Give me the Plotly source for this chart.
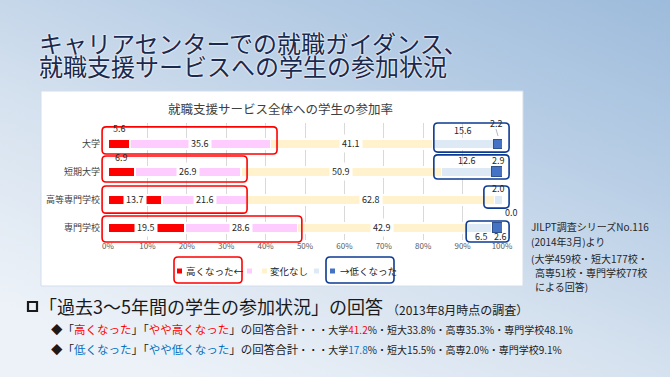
import base64
import plotly.graph_objects as go

W, H = 670, 377

# ---------------- data ----------------
categories = ["大学", "短期大学", "高等専門学校", "専門学校"]
series_names = ["高くなった", "やや高くなった", "変化なし", "やや低くなった", "低くなった"]
high = [5.6, 6.9, 13.7, 19.5]
slightly_high = [35.6, 26.9, 21.6, 28.6]
no_change = [41.1, 50.9, 62.8, 42.9]
slightly_low = [15.6, 12.6, 2.0, 6.5]
low = [2.2, 2.9, 0.0, 2.6]
x_ticks = list(range(0, 101, 10))
tick_labels = [f"{t}%" for t in x_ticks]
legend_labels = ["高くなった←", "", "変化なし", "", "→低くなった"]

series = [high, slightly_high, no_change, slightly_low, low]

# ---------------- styles / geometry ----------------
FONT = "Noto Sans CJK JP"
colors = ["#FF0000", "#FFCCFF", "#FFF2CC", "#DDEAF6", "#4472C4"]
line_colors = ["#FFFFFF", "#FFFFFF", "#FFFFFF", "#FFFFFF", "#2F528F"]
line_widths = [1.5, 1.5, 1.5, 1.5, 1.0]

PX0, PX1 = 108, 502          # x-axis domain in pixels
PY0, PY1 = 123, 240          # y-axis domain in pixels (top, bottom)
YR_TOP, YR_BOT = -0.75, 3.43  # category range (top, bottom)


def fx(px):
    return px / W


def fy(py):
    return 1 - py / H


def xd(v):  # data % -> px
    return PX0 + v / 100 * (PX1 - PX0)


def yd(c):  # category index -> px
    return PY0 + (c - YR_TOP) / (YR_BOT - YR_TOP) * (PY1 - PY0)


def rrect(x0, y0, x1, y1, r=4):
    pts = [
        ("M", [(x0 + r, y0)]), ("L", [(x1 - r, y0)]), ("Q", [(x1, y0), (x1, y0 + r)]),
        ("L", [(x1, y1 - r)]), ("Q", [(x1, y1), (x1 - r, y1)]),
        ("L", [(x0 + r, y1)]), ("Q", [(x0, y1), (x0, y1 - r)]),
        ("L", [(x0, y0 + r)]), ("Q", [(x0, y0), (x0 + r, y0)]),
    ]
    s = ""
    for cmd, ps in pts:
        s += cmd + " ".join(f"{fx(a):.5f},{fy(b):.5f}" for a, b in ps) + " "
    return s + "Z"


# label placement: (series, category) -> (xshift, yshift)
label_place = {
    (0, 0): (0, 15), (0, 1): (0, 14),
    (3, 0): (0, 13), (4, 0): (-2, 20),
    (3, 1): (0, 11), (4, 1): (1, 11),
    (3, 2): (0, 11), (4, 2): (9, -13),
    (3, 3): (2, -9), (4, 3): (3, -9),
}

# highlight boxes (x in %, y in category units)
red_boxes = [(-1.5, -0.61, 42.9, 0.36), (-1.5, 0.43, 35.3, 1.36),
             (-1.5, 1.50, 35.3, 2.47), (-1.5, 2.57, 49.2, 3.50)]
blue_boxes = [(82.7, -0.75, 101.8, 0.29), (82.7, 0.39, 101.8, 1.25),
              (95.4, 1.50, 101.8, 2.29), (90.9, 2.75, 101.8, 3.50)]

fig = go.Figure()
for i, (name, vals) in enumerate(zip(series_names, series)):
    fig.add_trace(go.Bar(
        y=categories, x=vals, name=name, orientation="h",
        marker=dict(color=colors[i], line=dict(color=line_colors[i], width=line_widths[i])),
        hoverinfo="skip", showlegend=False,
    ))

annotations = []
shapes = []

# data labels
for ci, cat in enumerate(categories):
    cum = 0.0
    for si, vals in enumerate(series):
        v = vals[ci]
        center = cum + v / 2
        cum += v
        if (si, ci) in label_place:
            xs, ys = label_place[(si, ci)]
            if si == 4 and ci == 2:
                center = 100
            annotations.append(dict(
                x=center, y=cat, xref="x", yref="y", text=f"{v:.1f}", showarrow=False,
                xshift=xs, yshift=ys, font=dict(family=FONT, size=9, color="#262626")))
        else:
            annotations.append(dict(
                x=center, y=cat, xref="x", yref="y", text=f"{v:.1f}", showarrow=False,
                bgcolor="#FFFFFF", borderpad=2,
                font=dict(family=FONT, size=9, color="#262626")))

# background gradient via svg image
svg = (
    "<svg xmlns='http://www.w3.org/2000/svg' width='670' height='377' preserveAspectRatio='none'>"
    "<defs><linearGradient id='g' x1='1' y1='0' x2='0.25' y2='1'>"
    "<stop offset='0' stop-color='#9DBBDB'/>"
    "<stop offset='0.35' stop-color='#BACFE6'/>"
    "<stop offset='0.65' stop-color='#D6E2EF'/>"
    "<stop offset='1' stop-color='#EDF2F8'/>"
    "</linearGradient></defs>"
    "<rect width='670' height='377' fill='url(#g)'/></svg>"
)
bg_src = "data:image/svg+xml;base64," + base64.b64encode(svg.encode()).decode()

# white chart area
shapes.append(dict(type="rect", xref="paper", yref="paper", layer="below",
                   x0=fx(41), x1=fx(523), y0=fy(286), y1=fy(91),
                   fillcolor="#FFFFFF", line=dict(color="#D3DEEB", width=1)))

# red / blue highlight boxes
for (x0, c0, x1, c1) in red_boxes:
    shapes.append(dict(type="path", xref="paper", yref="paper", layer="above",
                       path=rrect(xd(x0), yd(c0), xd(x1), yd(c1)),
                       line=dict(color="#FF0000", width=1.6)))
for (x0, c0, x1, c1) in blue_boxes:
    shapes.append(dict(type="path", xref="paper", yref="paper", layer="above",
                       path=rrect(xd(x0), yd(c0), xd(x1), yd(c1)),
                       line=dict(color="#0D3B94", width=1.6)))

# leader line for 2.2
shapes.append(dict(type="line", xref="paper", yref="paper", layer="above",
                   x0=fx(496), y0=fy(129), x1=fx(498), y1=fy(136),
                   line=dict(color="#A6A6A6", width=0.8)))

# manual legend
leg_sq_x = [177, 247, 262, 314, 330]
leg_txt_x = [184, None, 268, None, 338]
LY = 271
for i in range(5):
    shapes.append(dict(type="rect", xref="paper", yref="paper", layer="above",
                       x0=fx(leg_sq_x[i]), x1=fx(leg_sq_x[i] + 5),
                       y0=fy(LY + 2.5), y1=fy(LY - 2.5),
                       fillcolor=colors[i], line=dict(width=0)))
    if legend_labels[i]:
        annotations.append(dict(x=fx(leg_txt_x[i]), y=fy(LY), xref="paper", yref="paper",
                                xanchor="left", yanchor="middle", showarrow=False,
                                text=legend_labels[i],
                                font=dict(family=FONT, size=9.5, color="#262626")))
shapes.append(dict(type="path", xref="paper", yref="paper", layer="above",
                   path=rrect(174, 257, 242, 283), line=dict(color="#FF0000", width=1.6)))
shapes.append(dict(type="path", xref="paper", yref="paper", layer="above",
                   path=rrect(326, 257, 394, 283), line=dict(color="#0D3B94", width=1.6)))

# chart title
annotations.append(dict(x=fx(280), y=fy(108), xref="paper", yref="paper", showarrow=False,
                        xanchor="center", yanchor="middle",
                        text="就職支援サービス全体への学生の参加率",
                        font=dict(family=FONT, size=12.5, color="#404040")))

# slide title
for txt, yy in [("キャリアセンターでの就職ガイダンス、", 42), ("就職支援サービスへの学生の参加状況", 65)]:
    annotations.append(dict(x=fx(37), y=fy(yy), xref="paper", yref="paper", showarrow=False,
                            xanchor="left", yanchor="middle", text=txt,
                            font=dict(family=FONT, size=24, color="#1A2A4E",
                                      shadow="0 0 2px #ffffff, 0 0 2px #ffffff")))

# source notes
notes = [("JILPT調査シリーズNo.116", 529, 226), ("(2014年3月)より", 529, 241),
         ("(大学459校・短大177校・", 529, 258), ("高専51校・専門学校77校", 533, 272),
         ("による回答)", 533, 286)]
for txt, xx, yy in notes:
    annotations.append(dict(x=fx(xx), y=fy(yy), xref="paper", yref="paper", showarrow=False,
                            xanchor="left", yanchor="middle", text=txt,
                            font=dict(family=FONT, size=10, color="#262626")))

# bottom texts
shapes.append(dict(type="rect", xref="paper", yref="paper", layer="above",
                   x0=fx(28), x1=fx(37), y0=fy(311), y1=fy(302),
                   line=dict(color="#1A1A1A", width=2.2)))
annotations.append(dict(x=fx(37), y=fy(306), xref="paper", yref="paper", showarrow=False,
                        xanchor="left", yanchor="middle",
                        text="「過去3～5年間の学生の参加状況」の回答",
                        font=dict(family=FONT, size=18, color="#1A1A1A")))
annotations.append(dict(x=fx(385), y=fy(309), xref="paper", yref="paper", showarrow=False,
                        xanchor="left", yanchor="middle",
                        text="（2013年8月時点の調査）",
                        font=dict(family=FONT, size=12, color="#1A1A1A")))

hi_tot = [a + b for a, b in zip(high, slightly_high)]
lo_tot = [a + b for a, b in zip(slightly_low, low)]
short = ["大学", "短大", "高専", "専門学校"]
RED, BLUE = "#FF0000", "#0070C0"


def summary(vals, col):
    parts = []
    for k, (s, v) in enumerate(zip(short, vals)):
        num = f"{v:.1f}"
        if k == 0:
            num = f"<span style='color:{col}'>{num}</span>"
        parts.append(f"{s}{num}%")
    return "・".join(parts)


line_b = (f"◆「<span style='color:{RED}'>高くなった</span>」「<span style='color:{RED}'>やや高くなった</span>」の回答合計"
          f"<span style='font-size:10px'>・・・{summary(hi_tot, RED)}</span>")
line_c = (f"◆「<span style='color:{BLUE}'>低くなった</span>」「<span style='color:{BLUE}'>やや低くなった</span>」の回答合計"
          f"<span style='font-size:10px'>・・・{summary(lo_tot, BLUE)}</span>")
for txt, yy in [(line_b, 329), (line_c, 349)]:
    annotations.append(dict(x=fx(49), y=fy(yy), xref="paper", yref="paper", showarrow=False,
                            xanchor="left", yanchor="middle", text=txt,
                            font=dict(family=FONT, size=11.5, color="#1A1A1A")))

fig.update_layout(
    width=W, height=H, margin=dict(l=0, r=0, t=0, b=0, pad=0, autoexpand=False),
    barmode="stack", bargap=0.643,
    paper_bgcolor="#D6E2EF", plot_bgcolor="rgba(0,0,0,0)",
    showlegend=False,
    images=[dict(source=bg_src, xref="paper", yref="paper", x=0, y=1, sizex=1, sizey=1,
                 sizing="stretch", xanchor="left", yanchor="top", layer="below")],
    xaxis=dict(domain=[fx(PX0), fx(PX1)], range=[0, 100], tickvals=x_ticks, ticktext=tick_labels,
               showgrid=True, gridcolor="#D9D9D9", gridwidth=1, zeroline=False, showline=False,
               ticks="", automargin=False,
               tickfont=dict(family=FONT, size=8, color="#595959"), fixedrange=True),
    yaxis=dict(domain=[fy(PY1), fy(PY0)], type="category", categoryorder="array",
               categoryarray=categories, range=[YR_BOT, YR_TOP], showgrid=False,
               zeroline=False, showline=False, ticks="", automargin=False,
               ticklabelstandoff=7,
               tickfont=dict(family=FONT, size=9, color="#404040"), fixedrange=True),
    shapes=shapes, annotations=annotations,
)

fig.write_html(
    "out.html",
    config={"displayModeBar": False},
    post_script="document.body.style.margin='0';document.body.style.overflow='hidden';",
)
